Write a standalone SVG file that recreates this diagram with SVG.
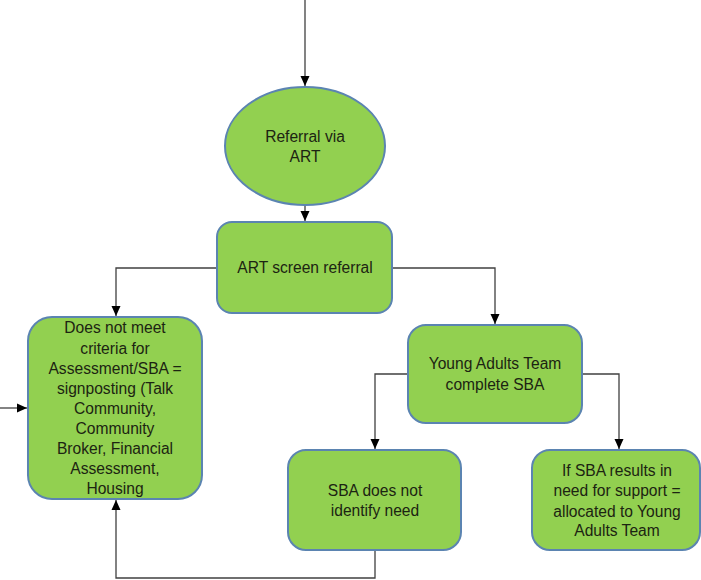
<svg xmlns="http://www.w3.org/2000/svg" width="701" height="580" viewBox="0 0 701 580">
<defs>
<marker id="arr" markerWidth="11" markerHeight="11" refX="10" refY="5.5" orient="auto" markerUnits="userSpaceOnUse">
<path d="M0,1 L10,5.5 L0,10 Z" fill="#000"/>
</marker>
<style>
.node{fill:#92D050;stroke:#5B84B1;stroke-width:2}
.lbl{font-family:"Liberation Sans",Arial,sans-serif;font-size:15.6px;fill:#1c2412;text-anchor:middle}
.con{fill:none;stroke:#404040;stroke-width:1.3}
</style>
</defs>
<rect width="701" height="580" fill="#fff"/>
<g id="connectors">
<path class="con" d="M305,0 V86" marker-end="url(#arr)"/>
<path class="con" d="M305,205 V221" marker-end="url(#arr)"/>
<path class="con" d="M217,268 H116 V316" marker-end="url(#arr)"/>
<path class="con" d="M392,268 H495 V324" marker-end="url(#arr)"/>
<path class="con" d="M0,408 H27" marker-end="url(#arr)"/>
<path class="con" d="M408,374 H375 V449" marker-end="url(#arr)"/>
<path class="con" d="M582,374 H619 V449" marker-end="url(#arr)"/>
<path class="con" d="M375,550 V578 H116 V500" marker-end="url(#arr)"/>
</g>
<g id="referral">
<ellipse class="node" cx="305" cy="146" rx="80" ry="59"/>
<text class="lbl" x="305" y="142">Referral via</text>
<text class="lbl" x="305" y="162">ART</text>
</g>
<g id="screen">
<rect class="node" x="217" y="222" width="175" height="91" rx="15"/>
<text class="lbl" x="305" y="273">ART screen referral</text>
</g>
<g id="notmeet">
<rect class="node" x="28" y="317" width="174" height="182" rx="24"/>
<text class="lbl" x="115" y="333">Does not meet</text>
<text class="lbl" x="115" y="354">criteria for</text>
<text class="lbl" x="115" y="374">Assessment/SBA =</text>
<text class="lbl" x="115" y="394">signposting (Talk</text>
<text class="lbl" x="115" y="414">Community,</text>
<text class="lbl" x="115" y="434">Community</text>
<text class="lbl" x="115" y="454">Broker, Financial</text>
<text class="lbl" x="115" y="474">Assessment,</text>
<text class="lbl" x="115" y="494">Housing</text>
</g>
<g id="yat">
<rect class="node" x="408" y="325" width="174" height="98" rx="18"/>
<text class="lbl" x="495" y="369">Young Adults Team</text>
<text class="lbl" x="495" y="390">complete SBA</text>
</g>
<g id="noneed">
<rect class="node" x="288" y="450" width="173" height="100" rx="18"/>
<text class="lbl" x="375" y="496">SBA does not</text>
<text class="lbl" x="375" y="516">identify need</text>
</g>
<g id="need">
<rect class="node" x="532" y="450" width="168" height="100" rx="18"/>
<text class="lbl" x="617" y="476">If SBA results in</text>
<text class="lbl" x="617" y="496">need for support =</text>
<text class="lbl" x="617" y="517">allocated to Young</text>
<text class="lbl" x="617" y="536">Adults Team</text>
</g>
</svg>
